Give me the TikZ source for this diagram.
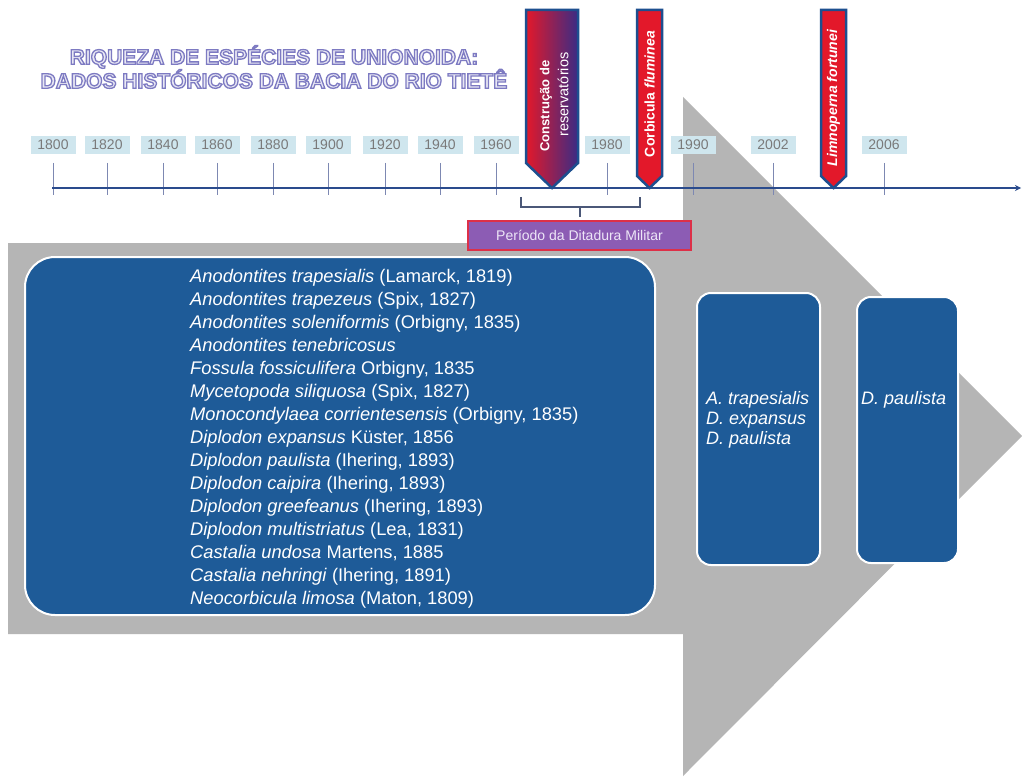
\documentclass[tikz,border=0pt]{standalone}
\usepackage{fontspec}
\setmainfont{Liberation Sans}
\usetikzlibrary{arrows.meta}
\definecolor{arrowgray}{HTML}{B5B5B5}
\definecolor{boxblue}{HTML}{1E5B98}
\definecolor{yearfill}{HTML}{CFE6EE}
\definecolor{yeartext}{HTML}{7A7A7A}
\definecolor{tlblue}{HTML}{2A4B8D}
\definecolor{tickcol}{HTML}{7D88B2}
\definecolor{markborder}{HTML}{1D4F8F}
\definecolor{markred}{HTML}{E3182A}
\definecolor{markpurple}{HTML}{3A2C85}
\definecolor{periodfill}{HTML}{8C5CB4}
\definecolor{periodedge}{HTML}{DD3048}
\definecolor{periodtext}{HTML}{EDE6F7}
\definecolor{titlefill}{HTML}{E9E8F4}
\definecolor{bracketcol}{HTML}{4B5878}
\newcommand{\outlinetext}[1]{{\color{titlefill}\special{pdf:literal direct q 2 Tr 1.3 w 0.49 0.48 0.76 RG}#1\special{pdf:literal direct Q}}}
\begin{document}
\begin{tikzpicture}[x=1pt,y=-1pt,
  yearbox/.style={fill=yearfill,text=yeartext,font=\fontsize{14}{14}\selectfont,minimum width=45pt,minimum height=18pt,inner sep=0pt},
  tickline/.style={draw=tickcol,line width=1pt},
  timeline/.style={draw=tlblue,line width=2pt},
  markbox/.style={draw=markborder,line width=2.5pt,line join=miter},
  marktext/.style={text=white,rotate=90,inner sep=0pt,align=center},
  bluebox/.style={fill=boxblue,draw=white,line width=2pt,rounded corners=#1,inner sep=0pt},
  bluebox/.default=14pt,
  spectext/.style={text=white,font=\fontsize{18.3}{23}\selectfont,align=left,inner sep=0pt},
  periodbox/.style={fill=periodfill,draw=periodedge,line width=1.5pt,text=periodtext,font=\fontsize{14}{14}\selectfont,minimum width=223pt,minimum height=29pt,inner sep=0pt},
  bracket/.style={draw=bracketcol,line width=1.5pt},
  titlestyle/.style={font=\fontsize{21}{21}\selectfont\bfseries,align=center,inner sep=0pt}
]
\useasboundingbox (0,0) rectangle (1022,778);
\fill[white] (0,0) rectangle (1022,778);

% big gray arrow
\fill[arrowgray] (8,243) -- (683,243) -- (683,97) -- (1022,436) -- (683,776) -- (683,634) -- (8,634) -- cycle;

% title
\node[titlestyle] (title) at (274,67)
  {\outlinetext{RIQUEZA DE ESPÉCIES DE UNIONOIDA:}\\
   \outlinetext{DADOS HISTÓRICOS DA BACIA DO RIO TIETÊ}};

% year labels and ticks
\foreach \yr/\xx in {1800/53,1820/107,1840/163,1860/217,1880/273,1900/328,1920/385,1940/440,1960/496,1980/607,1990/693,2002/773,2006/884}{
  \node[yearbox] (y\yr) at (\xx,145) {\yr};
  \coordinate (ta\yr) at (\xx,163);
  \coordinate (tb\yr) at (\xx,195);
  \draw[tickline] (ta\yr) -- (tb\yr);
}

% timeline
\coordinate (tlstart) at (52,188);
\coordinate (tlend) at (1021,188);
\draw[timeline,-{Stealth[length=6pt,width=6pt]}] (tlstart) -- (tlend);

% markers
\path[markbox,left color=markred,right color=markpurple] (526,10) -- (578,10) -- (578,163) -- (552,188) -- (526,163) -- cycle;
\node[marktext,font=\fontsize{13}{13}\selectfont\bfseries] (m1a) at (546,106) {Construção de};
\node[marktext,font=\fontsize{14.5}{14.5}\selectfont] (m1b) at (563,94.5) {reservatórios};
\path[markbox,fill=markred] (637,10) -- (662,10) -- (662,176) -- (649.5,188) -- (637,176) -- cycle;
\node[marktext,font=\fontsize{14}{14}\selectfont\bfseries] (m2) at (649.5,94) {Corbicula \textit{fluminea}};
\path[markbox,fill=markred] (821,10) -- (846,10) -- (846,176) -- (833.5,188) -- (821,176) -- cycle;
\node[marktext,font=\fontsize{14}{14}\selectfont\bfseries\itshape] (m3) at (833.5,98) {Limnoperna fortunei};

% bracket
\coordinate (bl1) at (521,197);
\coordinate (bl2) at (521,207);
\coordinate (br2) at (640,207);
\coordinate (br1) at (640,197);
\coordinate (bs1) at (580,207);
\coordinate (bs2) at (580,217);
\draw[bracket] (bl1) -- (bl2) -- (br2) -- (br1);
\draw[bracket] (bs1) -- (bs2);

% period box
\node[periodbox] (period) at (579.5,235.5) {Período da Ditadura Militar};

% blue boxes
\node[bluebox=30pt,minimum width=630pt,minimum height=358pt] (main) at (340,436) {};
\node[bluebox,minimum width=123pt,minimum height=272pt] (box2) at (758.5,429) {};
\node[bluebox,minimum width=101pt,minimum height=266pt] (box3) at (907.5,430) {};

\node[spectext,anchor=north west] (species) at (190,269) {%
\textit{Anodontites trapesialis} (Lamarck, 1819)\\
\textit{Anodontites trapezeus} (Spix, 1827)\\
\textit{Anodontites soleniformis} (Orbigny, 1835)\\
\textit{Anodontites tenebricosus}\\
\textit{Fossula fossiculifera} Orbigny, 1835\\
\textit{Mycetopoda siliquosa} (Spix, 1827)\\
\textit{Monocondylaea corrientesensis} (Orbigny, 1835)\\
\textit{Diplodon expansus} Küster, 1856\\
\textit{Diplodon paulista} (Ihering, 1893)\\
\textit{Diplodon caipira} (Ihering, 1893)\\
\textit{Diplodon greefeanus} (Ihering, 1893)\\
\textit{Diplodon multistriatus} (Lea, 1831)\\
\textit{Castalia undosa} Martens, 1885\\
\textit{Castalia nehringi} (Ihering, 1891)\\
\textit{Neocorbicula limosa} (Maton, 1809)};

\node[spectext,font=\fontsize{18}{20}\selectfont\itshape,anchor=west] (list2) at (706,420) {A. trapesialis\\D. expansus\\D. paulista};
\node[spectext,font=\fontsize{18}{20}\selectfont\itshape,anchor=west] (list3) at (861,400) {D. paulista};
\end{tikzpicture}
\end{document}
